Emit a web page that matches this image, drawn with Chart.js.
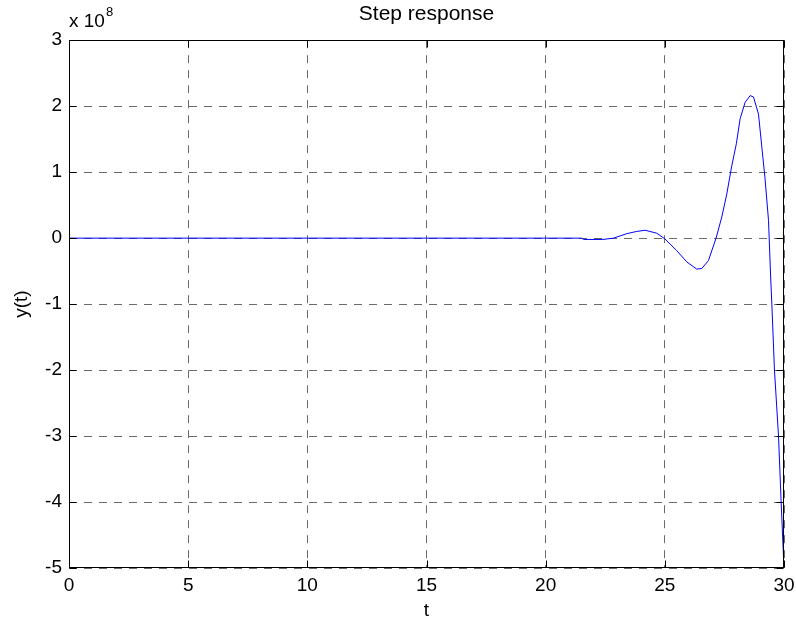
<!DOCTYPE html>
<html>
<head>
<meta charset="utf-8">
<script src="https://cdn.jsdelivr.net/npm/chart.js@4/dist/chart.umd.min.js"></script>
<style>
  html, body { margin: 0; padding: 0; background: #fff; }
  .wrap { width: 796px; height: 624px; }
</style>
</head>
<body>
<div class="wrap"><canvas id="stepChart"></canvas></div>
<script>
// step response samples, y values are in units of 1e8
const tValues = [0, 5, 10, 15, 20, 21.5, 21.6, 22.4, 22.85, 23.4, 23.8, 24.17, 24.66, 25.0, 25.5,
  25.92, 26.34, 26.55, 26.83, 27.15, 27.39, 27.6, 27.8, 28.0, 28.16, 28.37, 28.58, 28.72,
  28.93, 29.07, 29.2, 29.35, 29.44, 29.49, 29.6, 29.77, 29.88, 30.0];
const yValues = [0, 0, 0, 0, 0, 0, -0.02, -0.02, 0, 0.067, 0.1, 0.12, 0.075, -0.01, -0.19,
  -0.36, -0.47, -0.46, -0.34, 0, 0.32, 0.67, 1.08, 1.43, 1.81, 2.06, 2.16, 2.14,
  1.88, 1.38, 0.92, 0.27, -0.59, -1.0, -2.0, -3.0, -4.0, -5.0];
const xTicks = [0, 5, 10, 15, 20, 25, 30];
const yTicks = [-5, -4, -3, -2, -1, 0, 1, 2, 3];
const yExponent = 8;

const fontFamily = '"Liberation Sans", Arial, sans-serif';
const gridColor = '#6a6a6a';

// box around the axes, inward tick marks and the "x 10^8" multiplier
const matlabFrame = {
  id: 'matlabFrame',
  afterDraw(chart) {
    const { ctx, chartArea: a, scales } = chart;
    const L = Math.round(a.left) + 0.5, R = Math.round(a.right) - 0.5;
    const T = Math.round(a.top) + 0.5, B = Math.round(a.bottom) - 0.5;
    ctx.save();
    ctx.setLineDash([]);
    ctx.strokeStyle = '#000';
    ctx.lineWidth = 1;
    ctx.beginPath();
    xTicks.forEach(v => {
      const px = Math.round(scales.x.getPixelForValue(v)) + 0.5;
      ctx.moveTo(px, B); ctx.lineTo(px, B - 7);
      ctx.moveTo(px, T); ctx.lineTo(px, T + 7);
    });
    yTicks.forEach(v => {
      const py = Math.round(scales.y.getPixelForValue(v)) + 0.5;
      ctx.moveTo(L, py); ctx.lineTo(L + 7, py);
      ctx.moveTo(R, py); ctx.lineTo(R - 7, py);
    });
    ctx.stroke();
    ctx.strokeRect(L, T, R - L, B - T);

    ctx.fillStyle = '#000';
    ctx.textAlign = 'left';
    ctx.textBaseline = 'alphabetic';
    ctx.font = '19px ' + fontFamily;
    const base = 'x 10';
    ctx.fillText(base, a.left, 27);
    const w = ctx.measureText(base).width;
    ctx.font = '13px ' + fontFamily;
    ctx.fillText(String(yExponent), a.left + w + 1, 16);
    ctx.restore();
  }
};

const ctx = document.getElementById('stepChart');
new Chart(ctx, {
  type: 'line',
  data: {
    datasets: [{
      label: 'y(t)',
      data: tValues.map((t, i) => ({ x: t, y: yValues[i] })),
      borderColor: '#0000ff',
      borderWidth: 1,
      pointRadius: 0,
      tension: 0,
      fill: false
    }]
  },
  options: {
    responsive: true,
    maintainAspectRatio: false,
    animation: false,
    layout: { padding: { left: 0, right: 12, top: 0, bottom: 0 } },
    plugins: {
      legend: { display: false },
      tooltip: { enabled: false },
      title: {
        display: true,
        text: 'Step response',
        fullSize: false,
        color: '#000',
        font: { family: fontFamily, size: 21, weight: 'normal' },
        padding: { top: 2, bottom: 13 }
      }
    },
    scales: {
      x: {
        type: 'linear',
        min: 0,
        max: 30,
        afterBuildTicks: s => { s.ticks = xTicks.map(v => ({ value: v })); },
        afterFit: s => { s.height = 56; s.paddingLeft = 0; s.paddingRight = 0; },
        ticks: { color: '#000', font: { family: fontFamily, size: 19 }, padding: 6, maxRotation: 0 },
        grid: { color: gridColor, drawTicks: false, lineWidth: 1 },
        border: { display: false, dash: [8, 7] },
        title: {
          display: true, text: 't', color: '#000',
          font: { family: fontFamily, size: 19 },
          padding: { top: 0, bottom: 2 }
        }
      },
      y: {
        min: -5,
        max: 3,
        afterBuildTicks: s => { s.ticks = yTicks.map(v => ({ value: v })); },
        afterFit: s => { s.width = 69; },
        ticks: { color: '#000', font: { family: fontFamily, size: 19 }, padding: 7 },
        grid: { color: gridColor, drawTicks: false, lineWidth: 1 },
        border: { display: false, dash: [8, 7] },
        title: {
          display: true, text: 'y(t)', color: '#000',
          font: { family: fontFamily, size: 19 },
          padding: { top: 10, bottom: 0 }
        }
      }
    }
  },
  plugins: [matlabFrame]
});
</script>
</body>
</html>
